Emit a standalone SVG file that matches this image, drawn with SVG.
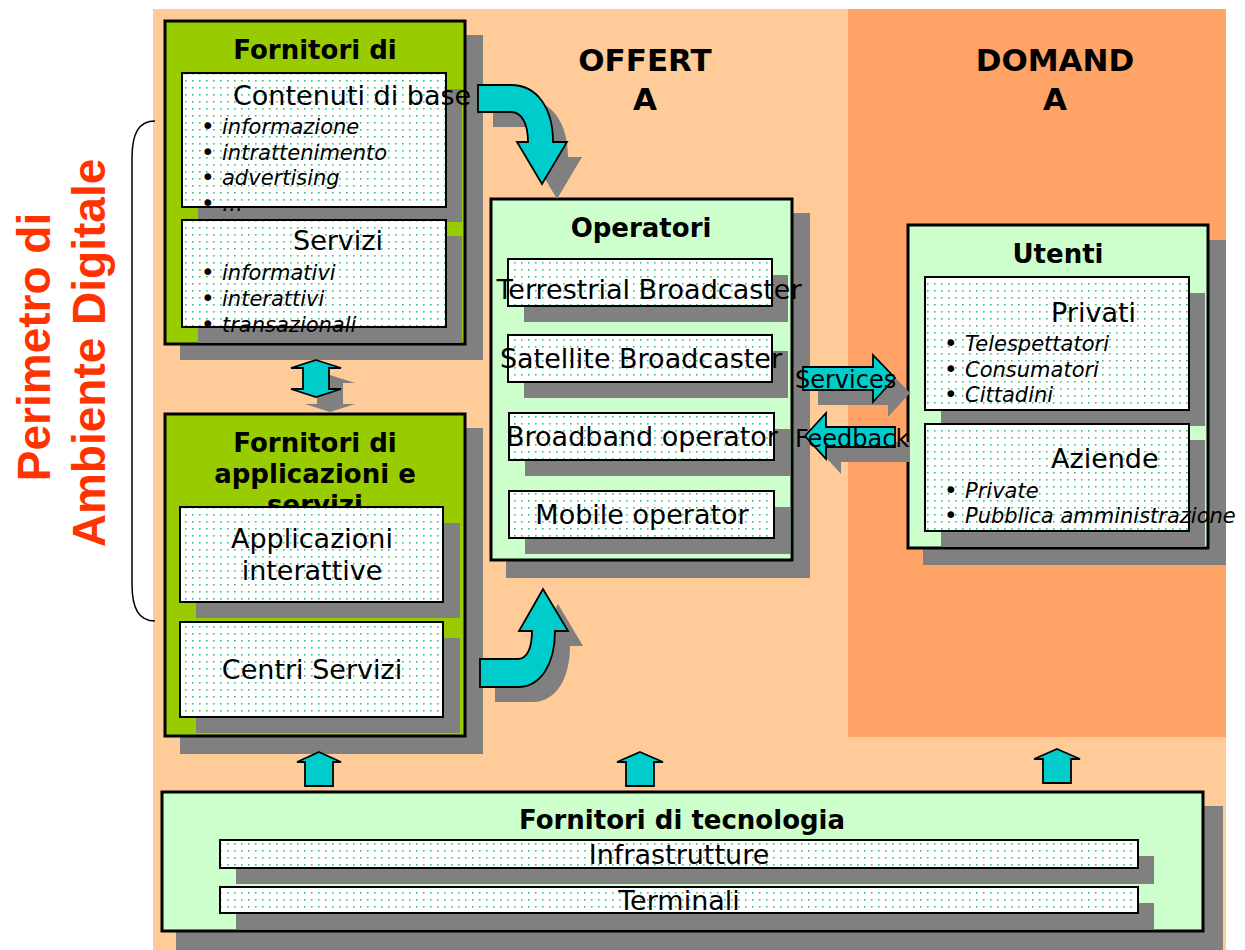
<svg xmlns="http://www.w3.org/2000/svg" width="1245" height="950" viewBox="0 0 1245 950">
  <defs>
    <pattern id="dots" width="7" height="7" patternUnits="userSpaceOnUse">
      <rect width="7" height="7" fill="#ffffff"/>
      <rect x="3" y="3" width="1.6" height="1.6" fill="#36c487"/>
    </pattern>
    <style>
      .shadow{fill:#808080}
      .outer-g{fill:#99cc00;stroke:#000;stroke-width:3}
      .outer-l{fill:#ccffcc;stroke:#000;stroke-width:3}
      .inner{fill:url(#dots);stroke:#000;stroke-width:2}
      .arrow{fill:#00cccc;stroke:#000;stroke-width:1.8;stroke-linejoin:miter}
      text{font-family:"DejaVu Sans",Verdana,sans-serif;fill:#000}
      .t{font-size:27px}
      .b{font-size:26px;font-weight:bold}
      .h{font-size:31px;font-weight:bold}
      .i{font-size:21px;font-style:italic}
      .bul{font-size:23px;font-style:normal}
      .lbl{font-size:24px}
      .mid{text-anchor:middle}
      .side{font-family:"Liberation Sans",Arial,sans-serif;font-weight:bold;font-size:46px;fill:#ff3300;text-anchor:middle}
    </style>
  </defs>

  <!-- background bands: supply side and demand side -->
  <rect x="153" y="9" width="1073" height="941" fill="#ffcc99"/>
  <rect x="848" y="9" width="378" height="728" fill="#ffa366"/>

  <!-- column headings -->
  <g id="headings">
    <text class="h mid" x="645" y="71">OFFERT</text>
    <text class="h mid" x="645" y="110">A</text>
    <text class="h mid" x="1055" y="71">DOMAND</text>
    <text class="h mid" x="1055" y="110">A</text>
  </g>

  <!-- perimeter label with brace -->
  <g id="perimetro">
    <path d="M155,121 C139,121 132,133 132,158 L132,584 C132,609 139,621 155,621" fill="none" stroke="#000" stroke-width="1.5"/>
    <text class="side" transform="translate(50,347) rotate(-90)">Perimetro di</text>
    <text class="side" transform="translate(105,353) rotate(-90)">Ambiente Digitale</text>
  </g>

  <!-- content providers -->
  <g id="fornitori-contenuti">
    <rect class="shadow" x="180" y="35" width="303" height="325"/>
    <rect class="outer-g" x="165" y="21" width="300" height="323"/>
    <text class="b mid" x="315" y="59">Fornitori di</text>
    <rect class="shadow" x="198" y="89" width="264" height="133"/>
    <rect class="inner" x="182" y="73" width="264" height="134"/>
    <rect class="shadow" x="198" y="236" width="264" height="107"/>
    <rect class="inner" x="182" y="220" width="264" height="107"/>
    <text class="t" x="233" y="105">Contenuti di base</text>
    <text class="i" x="201" y="134"><tspan class="bul">•</tspan><tspan x="222">informazione</tspan></text>
    <text class="i" x="201" y="160"><tspan class="bul">•</tspan><tspan x="222">intrattenimento</tspan></text>
    <text class="i" x="201" y="185"><tspan class="bul">•</tspan><tspan x="222">advertising</tspan></text>
    <text class="i" x="201" y="211"><tspan class="bul">•</tspan><tspan x="222">…</tspan></text>
    <text class="t" x="293" y="250">Servizi</text>
    <text class="i" x="201" y="280"><tspan class="bul">•</tspan><tspan x="222">informativi</tspan></text>
    <text class="i" x="201" y="306"><tspan class="bul">•</tspan><tspan x="222">interattivi</tspan></text>
    <text class="i" x="201" y="332"><tspan class="bul">•</tspan><tspan x="222">transazionali</tspan></text>
  </g>

  <!-- application and service providers -->
  <g id="fornitori-applicazioni">
    <rect class="shadow" x="180" y="428" width="303" height="326"/>
    <rect class="outer-g" x="165" y="414" width="300" height="322"/>
    <text class="b mid" x="315" y="452">Fornitori di</text>
    <text class="b mid" x="315" y="483">applicazioni e</text>
    <text class="b mid" x="315" y="514">servizi</text>
    <rect class="shadow" x="196" y="523" width="264" height="95"/>
    <rect class="inner" x="180" y="507" width="263" height="95"/>
    <rect class="shadow" x="196" y="638" width="264" height="95"/>
    <rect class="inner" x="180" y="622" width="263" height="95"/>
    <text class="t mid" x="312" y="548">Applicazioni</text>
    <text class="t mid" x="312" y="580">interattive</text>
    <text class="t mid" x="312" y="679">Centri Servizi</text>
  </g>

  <!-- operators -->
  <g id="operatori">
    <rect class="shadow" x="506" y="213" width="304" height="365"/>
    <rect class="outer-l" x="491" y="199" width="301" height="361"/>
    <text class="b mid" x="641" y="237">Operatori</text>
    <rect class="shadow" x="524" y="275" width="264" height="47"/>
    <rect class="inner" x="508" y="259" width="264" height="47"/>
    <rect class="shadow" x="524" y="351" width="264" height="47"/>
    <rect class="inner" x="508" y="335" width="264" height="47"/>
    <rect class="shadow" x="525" y="429" width="265" height="47"/>
    <rect class="inner" x="509" y="413" width="265" height="47"/>
    <rect class="shadow" x="525" y="507" width="265" height="47"/>
    <rect class="inner" x="509" y="491" width="265" height="47"/>
    <text class="t mid" x="649" y="299">Terrestrial Broadcaster</text>
    <text class="t mid" x="641" y="368">Satellite Broadcaster</text>
    <text class="t mid" x="642" y="446">Broadband operator</text>
    <text class="t mid" x="642" y="524">Mobile operator</text>
  </g>

  <!-- users -->
  <g id="utenti">
    <rect class="shadow" x="923" y="240" width="303" height="325"/>
    <rect class="outer-l" x="908" y="225" width="300" height="323"/>
    <text class="b mid" x="1058" y="263">Utenti</text>
    <rect class="shadow" x="941" y="293" width="264" height="133"/>
    <rect class="inner" x="925" y="277" width="264" height="133"/>
    <rect class="shadow" x="941" y="440" width="264" height="107"/>
    <rect class="inner" x="925" y="424" width="264" height="107"/>
    <text class="t" x="1051" y="322">Privati</text>
    <text class="i" x="944" y="351"><tspan class="bul">•</tspan><tspan x="965">Telespettatori</tspan></text>
    <text class="i" x="944" y="377"><tspan class="bul">•</tspan><tspan x="965">Consumatori</tspan></text>
    <text class="i" x="944" y="402"><tspan class="bul">•</tspan><tspan x="965">Cittadini</tspan></text>
    <text class="t" x="1051" y="468">Aziende</text>
    <text class="i" x="944" y="498"><tspan class="bul">•</tspan><tspan x="965">Private</tspan></text>
    <text class="i" x="944" y="523"><tspan class="bul">•</tspan><tspan x="965">Pubblica amministrazione</tspan></text>
  </g>

  <!-- technology providers -->
  <g id="fornitori-tecnologia">
    <rect class="shadow" x="176" y="806" width="1047" height="144"/>
    <rect class="outer-l" x="162" y="792" width="1041" height="139"/>
    <text class="b mid" x="682" y="829">Fornitori di tecnologia</text>
    <rect class="shadow" x="236" y="856" width="918" height="28"/>
    <rect class="inner" x="220" y="840" width="918" height="28"/>
    <rect class="shadow" x="236" y="903" width="918" height="26"/>
    <rect class="inner" x="220" y="887" width="918" height="26"/>
    <text class="t mid" x="679" y="864">Infrastrutture</text>
    <text class="t mid" x="679" y="910">Terminali</text>
  </g>

  <!-- connectors -->
  <g id="connectors">
    <!-- contents to operators -->
    <path class="shadow" transform="translate(15,15)" d="M478,85 L511,85 C537,85 553,108 553,142 L567,142 L542,184 L517,142 L528,142 C528,124 522,112 511,112 L478,112 Z"/>
    <path class="arrow" d="M478,85 L511,85 C537,85 553,108 553,142 L567,142 L542,184 L517,142 L528,142 C528,124 522,112 511,112 L478,112 Z"/>

    <!-- applications to operators -->
    <path class="shadow" transform="translate(15,15)" d="M480,659 L518,659 C527,659 532,648 532,631 L519,631 L543,589 L568,631 L555,631 C555,665 540,687 518,687 L480,687 Z"/>
    <path class="arrow" d="M480,659 L518,659 C527,659 532,648 532,631 L519,631 L543,589 L568,631 L555,631 C555,665 540,687 518,687 L480,687 Z"/>

    <!-- contents <-> applications -->
    <path class="shadow" transform="translate(14,15)" d="M316,360 L341,368 L329,368 L329,389 L341,389 L316,397 L291,389 L303,389 L303,368 L291,368 Z"/>
    <path class="arrow" d="M316,360 L341,368 L329,368 L329,389 L341,389 L316,397 L291,389 L303,389 L303,368 L291,368 Z"/>

    <!-- services -->
    <path class="shadow" transform="translate(15,15)" d="M803,367 L873,367 L873,355 L895,378 L873,402 L873,390 L803,390 Z"/>
    <path class="arrow" d="M803,367 L873,367 L873,355 L895,378 L873,402 L873,390 L803,390 Z"/>
    <text class="lbl" x="795" y="388">Services</text>

    <!-- feedback -->
    <path class="shadow" transform="translate(15,15)" d="M805,436 L826,413 L826,427 L895,427 L895,447 L826,447 L826,459 Z"/>
    <path class="arrow" d="M805,436 L826,413 L826,427 L895,427 L895,447 L826,447 L826,459 Z"/>
    <text class="lbl" x="795" y="447">Feedback</text>

    <!-- technology up arrows -->
    <path class="arrow" d="M319,752 L341,762 L333,762 L333,786 L305,786 L305,762 L297,762 Z"/>
    <path class="arrow" d="M640,752 L663,762 L654,762 L654,786 L626,786 L626,762 L617,762 Z"/>
    <path class="arrow" d="M1057,749 L1080,759 L1071,759 L1071,783 L1043,783 L1043,759 L1034,759 Z"/>
  </g>
</svg>
